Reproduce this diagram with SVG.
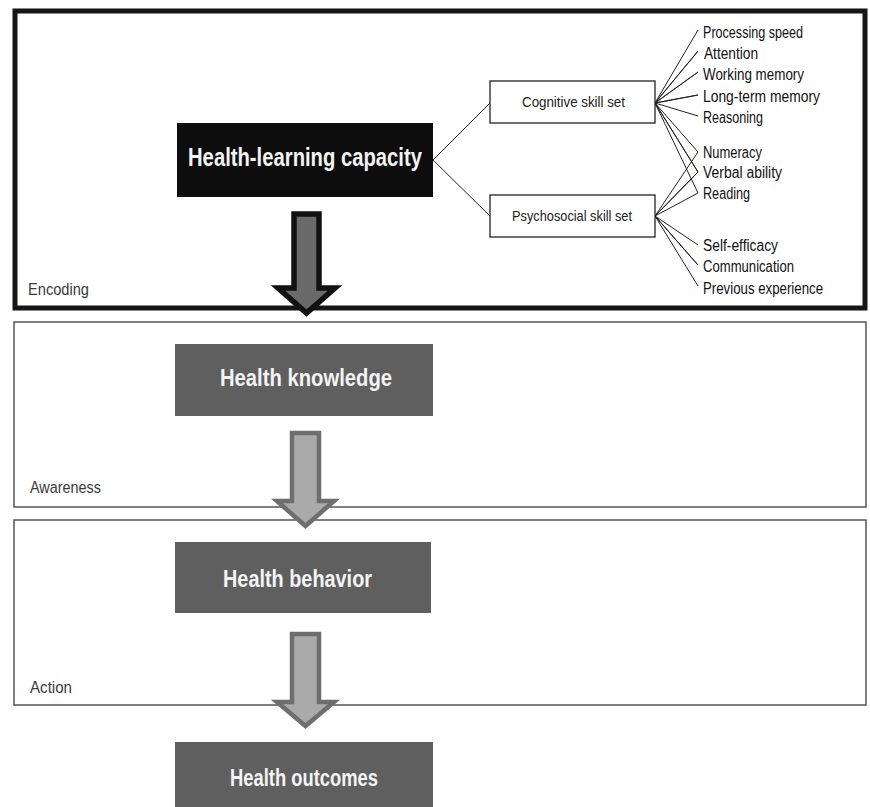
<svg xmlns="http://www.w3.org/2000/svg" width="870" height="807" viewBox="0 0 870 807">
<style>
.bg{fill:#fff}
.frame{fill:none;stroke:#555;stroke-width:1.5}
.frameTop{fill:none;stroke:#161616;stroke-width:5}
.node{fill:#5f5f5f}
.nodeBlack{fill:#0d0d0d}
.nt{font-family:"Liberation Sans",Arial,sans-serif;fill:#f4f4f4;font-weight:bold}
.lbl{font-family:"Liberation Sans",Arial,sans-serif;fill:#3a3a3a;font-size:16px}
.skill{fill:#fff;stroke:#222;stroke-width:1.3}
.st{font-family:"Liberation Sans",Arial,sans-serif;fill:#222;font-size:15px}
.it{font-family:"Liberation Sans",Arial,sans-serif;fill:#111;font-size:16px}
.ln{fill:none;stroke:#222;stroke-width:1}
.arrowDark{fill:#6a6a6a;stroke:#111;stroke-width:5.5;stroke-linejoin:miter}
.arrowLight{fill:#aaaaaa;stroke:#6e6e6e;stroke-width:4.5;stroke-linejoin:miter}
</style>
<rect class="bg" x="0" y="0" width="870" height="807"/>

<g id="frames">
<rect id="encoding-frame" class="frameTop" x="15" y="11" width="850" height="297"/>
<text class="lbl" x="28" y="295" textLength="61" lengthAdjust="spacingAndGlyphs">Encoding</text>
<rect id="awareness-frame" class="frame" x="14" y="322" width="852" height="185"/>
<text class="lbl" x="30" y="493" textLength="71" lengthAdjust="spacingAndGlyphs">Awareness</text>
<rect id="action-frame" class="frame" x="14" y="520" width="852" height="185"/>
<text class="lbl" x="30" y="693" textLength="42" lengthAdjust="spacingAndGlyphs">Action</text>
</g>

<g id="connectors">
<line class="ln" x1="433" y1="160" x2="490" y2="103"/>
<line class="ln" x1="433" y1="160" x2="490" y2="216"/>
<polyline class="ln" points="698,30 655,103 698,51 655,103 698,72 655,103 698,95 655,103 698,116"/>
<polyline class="ln" points="698,152 655,103 698,172 655,103 698,193"/>
<polyline class="ln" points="698,152 655,216 698,172 655,216 698,193"/>
<polyline class="ln" points="698,245 655,216 698,265 655,216 698,286"/>
<polygon id="arrow-encoding" class="arrowDark" points="294,214 319,214 319,288 335,288 306.5,313 278,288 294,288"/>
<polygon id="arrow-awareness" class="arrowLight" points="292,433 319,433 319,501 334,501 305.5,526 277,501 292,501"/>
<polygon id="arrow-action" class="arrowLight" points="292,634 319,634 319,702 334,702 305.5,726 277,702 292,702"/>
</g>

<g id="health-learning-capacity">
<rect class="nodeBlack" x="177" y="123" width="256" height="74"/>
<text class="nt" x="188" y="166" font-size="25" textLength="234" lengthAdjust="spacingAndGlyphs">Health-learning capacity</text>
</g>

<g id="cognitive-skill-set">
<rect class="skill" x="490" y="81" width="165" height="42"/>
<text class="st" x="522" y="107" textLength="103" lengthAdjust="spacingAndGlyphs">Cognitive skill set</text>
</g>

<g id="psychosocial-skill-set">
<rect class="skill" x="490" y="195" width="165" height="42"/>
<text class="st" x="512" y="221" textLength="120" lengthAdjust="spacingAndGlyphs">Psychosocial skill set</text>
</g>

<g id="skills">
<text class="it" x="703" y="38" textLength="100" lengthAdjust="spacingAndGlyphs">Processing speed</text>
<text class="it" x="704" y="59" textLength="54" lengthAdjust="spacingAndGlyphs">Attention</text>
<text class="it" x="703" y="80" textLength="101" lengthAdjust="spacingAndGlyphs">Working memory</text>
<text class="it" x="703" y="102" textLength="117" lengthAdjust="spacingAndGlyphs">Long-term memory</text>
<text class="it" x="703" y="123" textLength="60" lengthAdjust="spacingAndGlyphs">Reasoning</text>
<text class="it" x="703" y="158" textLength="59" lengthAdjust="spacingAndGlyphs">Numeracy</text>
<text class="it" x="703" y="178" textLength="79" lengthAdjust="spacingAndGlyphs">Verbal ability</text>
<text class="it" x="703" y="199" textLength="47" lengthAdjust="spacingAndGlyphs">Reading</text>
<text class="it" x="703" y="251" textLength="75" lengthAdjust="spacingAndGlyphs">Self-efficacy</text>
<text class="it" x="703" y="272" textLength="91" lengthAdjust="spacingAndGlyphs">Communication</text>
<text class="it" x="703" y="294" textLength="120" lengthAdjust="spacingAndGlyphs">Previous experience</text>
</g>

<g id="health-knowledge">
<rect class="node" x="175" y="344" width="258" height="72"/>
<text class="nt" x="220" y="386" font-size="23" textLength="172" lengthAdjust="spacingAndGlyphs">Health knowledge</text>
</g>

<g id="health-behavior">
<rect class="node" x="175" y="542" width="256" height="71"/>
<text class="nt" x="223" y="587" font-size="23" textLength="149" lengthAdjust="spacingAndGlyphs">Health behavior</text>
</g>

<g id="health-outcomes">
<rect class="node" x="175" y="742" width="258" height="70"/>
<text class="nt" x="230" y="786" font-size="23" textLength="148" lengthAdjust="spacingAndGlyphs">Health outcomes</text>
</g>
</svg>
